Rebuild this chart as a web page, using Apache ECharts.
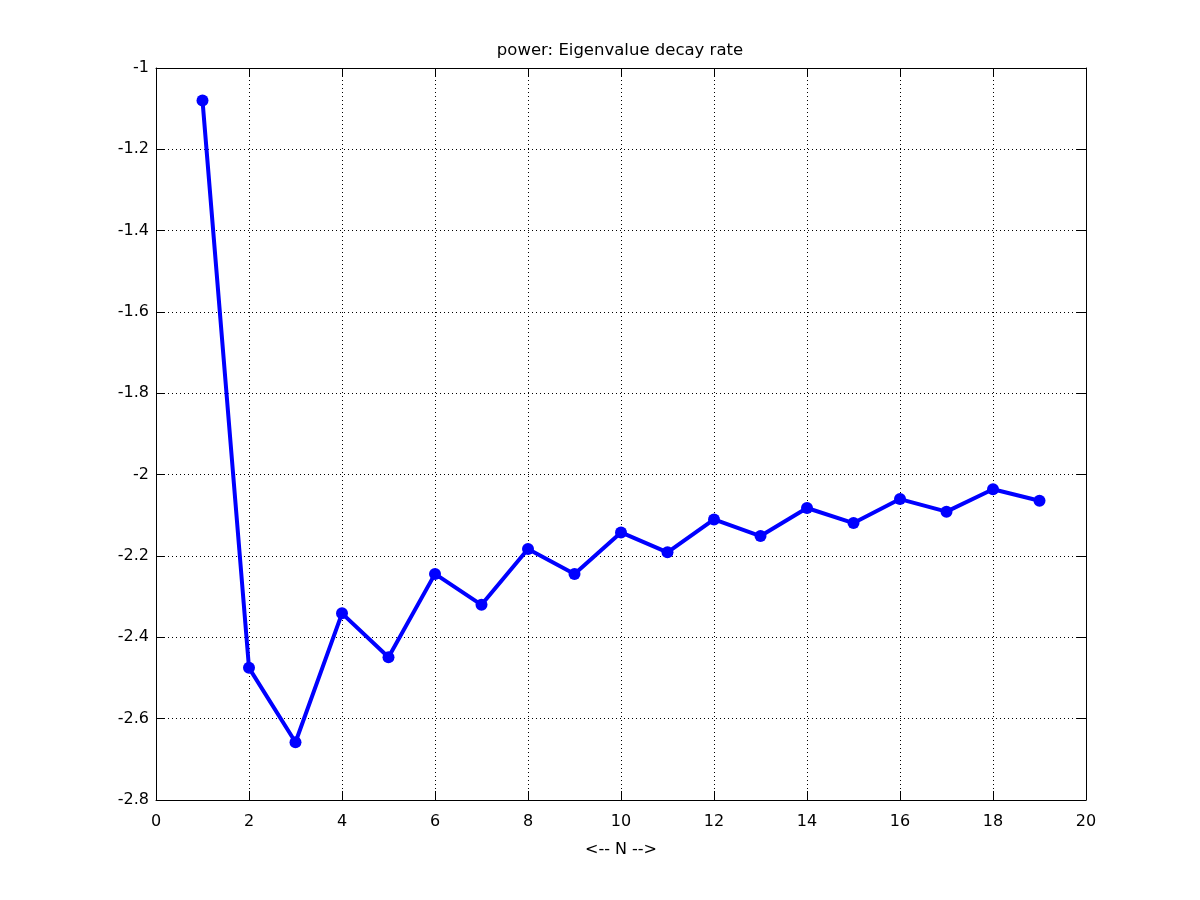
<!DOCTYPE html>
<html>
<head>
<meta charset="utf-8">
<script src="https://cdn.jsdelivr.net/npm/echarts@6/dist/echarts.min.js"></script>
<style>html,body{margin:0;padding:0;background:#fff}#c{width:1200px;height:900px}</style>
</head>
<body>
<div id="c"></div>
<script>
const titleText = 'power: Eigenvalue decay rate';
const xLabel = '<-- N -->';
const nValues = [1,2,3,4,5,6,7,8,9,10,11,12,13,14,15,16,17,18,19];
const decayRate = [-1.080,-2.475,-2.658,-2.341,-2.449,-2.244,-2.320,-2.183,-2.244,-2.142,-2.191,-2.110,-2.151,-2.082,-2.119,-2.060,-2.091,-2.036,-2.064];

const font = 'DejaVu Sans, Liberation Sans, Arial, sans-serif';
const chart = echarts.init(document.getElementById('c'));
function tick() { return {show: true, inside: true, length: 9, lineStyle: {color: '#000', width: 1}}; }
const line = {show: true, onZero: false, lineStyle: {color: '#000', width: 1}};
const dotted = {show: true, lineStyle: {color: '#000', type: [1, 3], width: 1}};
chart.setOption({
  animation: false,
  backgroundColor: '#fff',
  title: {text: titleText, left: 615, top: 37, textAlign: 'center',
    textStyle: {fontFamily: font, fontSize: 16.5, fontWeight: 'normal', color: '#000'}},
  grid: {left: 156, right: 114, top: 68, bottom: 100},
  xAxis: [
    {type: 'value', min: 0, max: 20, interval: 2, position: 'bottom',
      name: xLabel, nameLocation: 'middle', nameGap: 42,
      nameTextStyle: {fontFamily: font, fontSize: 16, color: '#000'},
      axisLine: line, axisTick: tick(), splitLine: dotted,
      axisLabel: {fontFamily: font, fontSize: 16, color: '#000', margin: 14}},
    {type: 'value', min: 0, max: 20, interval: 2, position: 'top',
      axisLine: line, axisTick: tick(), splitLine: {show: false},
      axisLabel: {show: false}}
  ],
  yAxis: [
    {type: 'value', min: -2.8, max: -1, interval: 0.2, position: 'left',
      axisLine: line, axisTick: tick(), splitLine: dotted,
      axisLabel: {fontFamily: font, fontSize: 16, color: '#000', margin: 7,
        padding: [6, 0, 0, 0],
        formatter: v => String(Math.round(v * 10) / 10)}},
    {type: 'value', min: -2.8, max: -1, interval: 0.2, position: 'right',
      axisLine: line, axisTick: tick(), splitLine: {show: false},
      axisLabel: {show: false}}
  ],
  series: [{
    type: 'line',
    data: nValues.map((n, i) => [n, decayRate[i]]),
    symbol: 'circle', symbolSize: 12,
    lineStyle: {color: '#0000ff', width: 4},
    itemStyle: {color: '#0000ff'},
    z: 10
  }]
});
</script>
</body>
</html>
